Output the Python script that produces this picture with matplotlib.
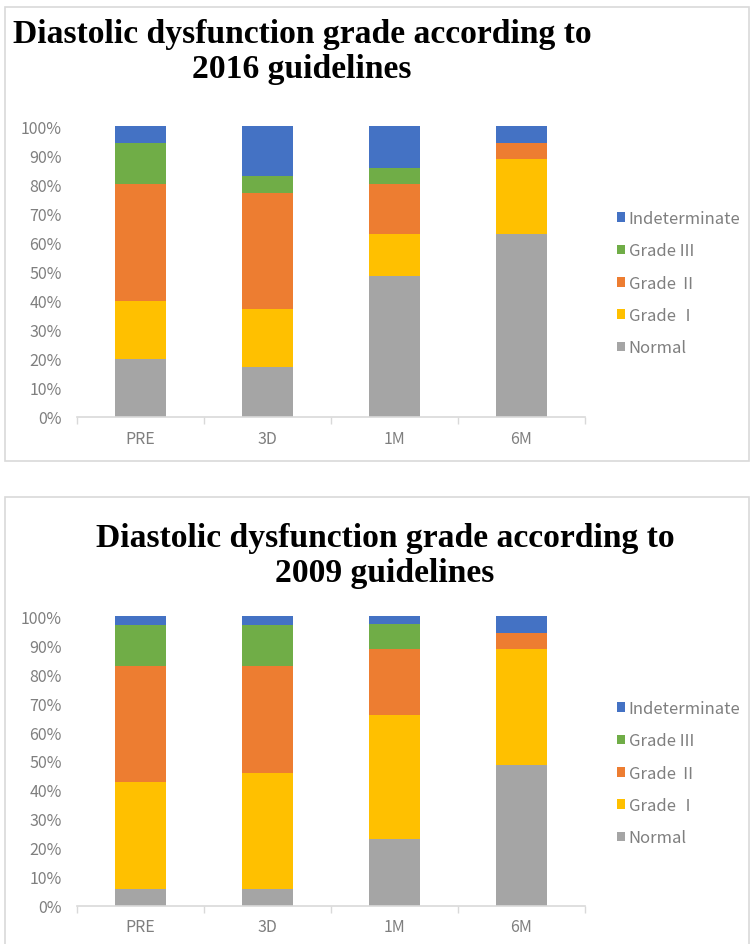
import numpy as np
import matplotlib
matplotlib.use("Agg")
import matplotlib.pyplot as plt
from matplotlib.patches import Rectangle, Patch

plt.rcParams['font.family'] = ['Noto Sans CJK SC', 'DejaVu Sans']

# data (percent of patients)
timepoints = ['PRE', '3D', '1M', '6M']
grades = ['Normal', 'Grade Ⅰ', 'Grade Ⅱ', 'Grade III', 'Indeterminate']
colors = ['#A5A5A5', '#FFC000', '#ED7D31', '#70AD47', '#4472C4']

normal_2016 = [20.0, 17.1, 48.6, 62.9]
grade1_2016 = [20.0, 20.0, 14.3, 25.7]
grade2_2016 = [40.0, 40.0, 17.1, 5.7]
grade3_2016 = [14.3, 5.7, 5.7, 0.0]
indet_2016 = [5.7, 17.1, 14.3, 5.7]

normal_2009 = [5.7, 5.7, 22.9, 48.6]
grade1_2009 = [37.1, 40.0, 42.9, 40.0]
grade2_2009 = [40.0, 37.1, 22.9, 5.7]
grade3_2009 = [14.3, 14.3, 8.6, 0.0]
indet_2009 = [2.9, 2.9, 2.9, 5.7]

W, H = 752, 945
fig = plt.figure(figsize=(W / 100, H / 100), dpi=100)

# light grey frames round each chart
for (x0, y0, x1, y1) in [(5, 8, 749, 462), (5, 498, 749, 950)]:
    fig.patches.append(Rectangle((x0 / W, 1 - y1 / H), (x1 - x0) / W, (y1 - y0) / H,
                                 transform=fig.transFigure, fill=False,
                                 edgecolor='#d9d9d9', linewidth=1.2))


def draw_panel(ax, series, title_lines, title_x, title_base, legend_y):
    x = np.arange(len(timepoints))
    bottom = np.zeros(len(timepoints))
    handles = []
    for vals, name, c in zip(series, grades, colors):
        ax.bar(x, vals, bottom=bottom, width=0.4, color=c, linewidth=0)
        bottom += np.array(vals)
        handles.append(Patch(facecolor=c, label=name))

    ax.set_xlim(-0.5, 3.5)
    ax.set_ylim(0, 100)
    ax.set_yticks(np.arange(0, 101, 10))
    ax.set_yticklabels([f'{v}%' for v in range(0, 101, 10)])
    ax.set_xticks(x)
    ax.set_xticklabels(timepoints)
    ax.set_xticks(np.arange(-0.5, 4, 1), minor=True)
    ax.tick_params(axis='y', length=0, labelsize=11.5, labelcolor='#7f7f7f', pad=10.8)
    ax.tick_params(axis='x', which='major', length=0, labelsize=11.5,
                   labelcolor='#7f7f7f', pad=9)
    ax.tick_params(axis='x', which='minor', length=5, color='#d9d9d9', width=1)
    for s in ['top', 'right', 'left']:
        ax.spines[s].set_visible(False)
    ax.spines['bottom'].set_color('#d9d9d9')
    ax.spines['bottom'].set_linewidth(1.2)

    # two-line bold serif title, each line placed on its own baseline
    for line, yb in zip(title_lines, title_base):
        fig.text(title_x / W, 1 - yb / H, line, ha='center', va='baseline',
                 family='Liberation Serif', fontweight='bold', fontsize=24.2)

    leg = fig.legend(handles=handles[::-1], loc='upper left',
                     bbox_to_anchor=(602 / W, 1 - legend_y / H), frameon=False,
                     handlelength=0.5, handleheight=0.5, handletextpad=0.2,
                     labelspacing=0.92, fontsize=12)
    for t in leg.get_texts():
        t.set_color('#7f7f7f')


ax1 = fig.add_axes([77 / W, 1 - 418 / H, 508 / W, 291 / H])
draw_panel(ax1, [normal_2016, grade1_2016, grade2_2016, grade3_2016, indet_2016],
           ['Diastolic dysfunction grade according to', '2016 guidelines'],
           302, (43, 78), 196)

ax2 = fig.add_axes([77 / W, 1 - 906.7 / H, 508 / W, 289.4 / H])
draw_panel(ax2, [normal_2009, grade1_2009, grade2_2009, grade3_2009, indet_2009],
           ['Diastolic dysfunction grade according to', '2009 guidelines'],
           385, (547, 582), 686)

fig.savefig('out.png', dpi=100)
